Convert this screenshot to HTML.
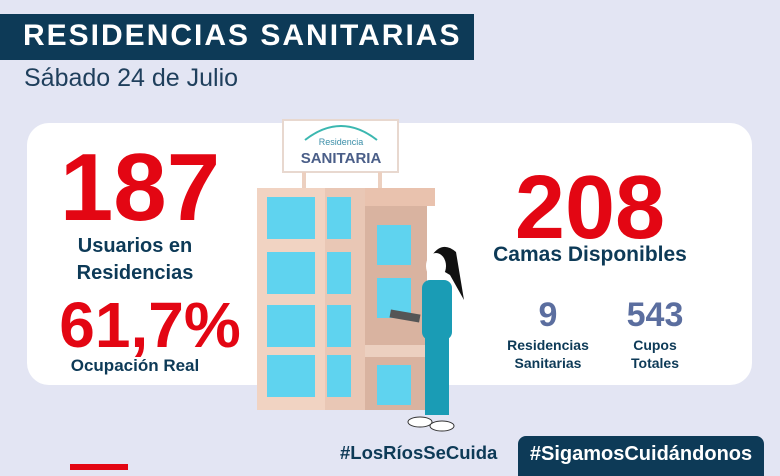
<!DOCTYPE html>
<html><head><meta charset="utf-8"><style>
body{margin:0;width:780px;height:470px;background:#e3e5f3;overflow:hidden;position:relative;font-family:"Liberation Sans",sans-serif}
.a{position:absolute}
.c{text-align:center;font-weight:bold}
</style></head><body>
<div class="a" style="left:0;top:14px;width:474px;height:46px;background:#0d3a57"></div>
<div class="a" style="left:23px;top:19px;font-size:30px;font-weight:bold;color:#fff;letter-spacing:2px">RESIDENCIAS SANITARIAS</div>
<div class="a" style="left:24px;top:64px;font-size:25px;color:#1f3f5c">Sábado 24 de Julio</div>
<div class="a" style="left:27px;top:123px;width:725px;height:262px;background:#fff;border-radius:22px"></div>

<div class="a c" style="left:30px;top:138px;width:220px;font-size:96px;color:#e30613;line-height:100px">187</div>
<div class="a c" style="left:30px;top:233px;width:210px;font-size:20px;color:#0d3a57;line-height:27px">Usuarios en<br>Residencias</div>
<div class="a c" style="left:40px;top:290px;width:220px;font-size:64px;color:#e30613;line-height:70px">61,7%</div>
<div class="a c" style="left:30px;top:356px;width:210px;font-size:17px;color:#0d3a57">Ocupación Real</div>

<div class="a c" style="left:480px;top:160px;width:220px;font-size:90px;color:#e30613;line-height:96px">208</div>
<div class="a c" style="left:470px;top:243px;width:240px;font-size:21px;color:#0d3a57">Camas Disponibles</div>
<div class="a c" style="left:498px;top:296px;width:100px;font-size:34px;color:#5b6e9f">9</div>
<div class="a c" style="left:488px;top:336px;width:120px;font-size:14px;color:#0d3a57;line-height:18px">Residencias<br>Sanitarias</div>
<div class="a c" style="left:605px;top:296px;width:100px;font-size:34px;color:#5b6e9f">543</div>
<div class="a c" style="left:595px;top:336px;width:120px;font-size:14px;color:#0d3a57;line-height:18px">Cupos<br>Totales</div>

<svg class="a" style="left:0;top:0" width="780" height="470">
<rect x="283" y="120" width="115" height="52" fill="#fff" stroke="#e8d8cf" stroke-width="2"/>
<path d="M305 140 Q341 112 377 140" fill="none" stroke="#3bb7b0" stroke-width="2"/>
<text x="341" y="145" font-size="9" fill="#3b8ea8" text-anchor="middle" font-family="Liberation Sans">Residencia</text>
<text x="341" y="163" font-size="15" font-weight="bold" fill="#4a5e88" text-anchor="middle" font-family="Liberation Sans">SANITARIA</text>
<rect x="302" y="172" width="4" height="16" fill="#ecd0c0"/><rect x="378" y="172" width="4" height="16" fill="#ecd0c0"/>
<rect x="257" y="188" width="108" height="222" fill="#f1d3c2"/>
<rect x="325" y="188" width="40" height="222" fill="#e9c7b5"/>
<rect x="365" y="188" width="70" height="18" fill="#e9c2ae"/>
<rect x="365" y="206" width="62" height="204" fill="#d9b3a0"/>
<rect x="365" y="345" width="62" height="12" fill="#ecd0c0"/>
<g fill="#5fd3ef">
<rect x="267" y="197" width="48" height="42"/><rect x="267" y="252" width="48" height="42"/><rect x="267" y="305" width="48" height="42"/><rect x="267" y="355" width="48" height="42"/>
<rect x="327" y="197" width="24" height="42"/><rect x="327" y="252" width="24" height="42"/><rect x="327" y="305" width="24" height="42"/><rect x="327" y="355" width="24" height="42"/>
<rect x="377" y="225" width="34" height="40"/><rect x="377" y="278" width="34" height="40"/><rect x="377" y="365" width="34" height="40"/>
</g>
<path d="M428 262 Q440 238 456 252 L464 300 L450 275 Z" fill="#111"/>
<ellipse cx="436" cy="266" rx="10" ry="13" fill="#fff"/>
<rect x="422" y="280" width="30" height="60" rx="8" fill="#1a9cb5"/>
<rect x="425" y="335" width="24" height="80" fill="#1a9cb5"/>
<rect x="390" y="312" width="30" height="8" fill="#555" transform="rotate(10 405 316)"/>
<ellipse cx="420" cy="422" rx="12" ry="5" fill="#fff" stroke="#333"/><ellipse cx="442" cy="426" rx="12" ry="5" fill="#fff" stroke="#333"/>
</svg>

<div class="a" style="left:340px;top:442px;font-size:18.5px;font-weight:bold;color:#0d3a57">#LosRíosSeCuida</div>
<div class="a" style="left:518px;top:436px;width:246px;height:40px;background:#0d3a57;border-radius:8px 8px 0 0;color:#fff;font-size:20px;font-weight:bold;text-align:center;line-height:36px">#SigamosCuidándonos</div>
<div class="a" style="left:70px;top:464px;width:58px;height:6px;background:#e30613"></div>
</body></html>
